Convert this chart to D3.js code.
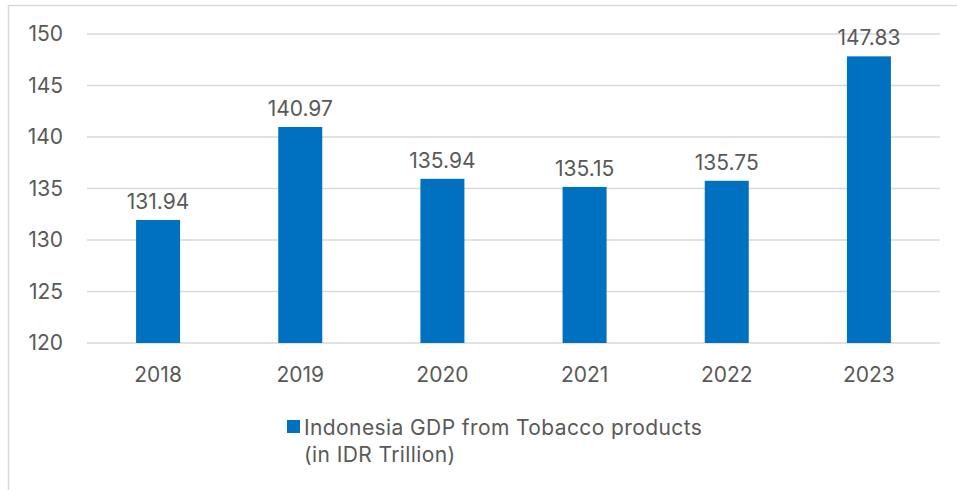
<!DOCTYPE html>
<html>
<head>
<meta charset="utf-8">
<script src="https://cdn.jsdelivr.net/npm/d3@7"></script>
<style>
  body { margin: 0; background: #fff; }
  text { font-family: Inter, "Liberation Sans", sans-serif; fill: #595959; }
</style>
</head>
<body>
<div class="chart"></div>
<script>
const years = ['2018', '2019', '2020', '2021', '2022', '2023'];
const gdpValues = [131.94, 140.97, 135.94, 135.15, 135.75, 147.83];
const yTicks = [120, 125, 130, 135, 140, 145, 150];
const legendLines = ['Indonesia GDP from Tobacco products', '(in IDR Trillion)'];

const width = 957;
const height = 490;
const plot = {left: 87, right: 940, top: 34, bottom: 343};
const barColor = '#0070c0';
const fontSize = '21px';

const svg = d3.select('.chart')
  .append('svg')
    .attr('width', width)
    .attr('height', height);

// outer chart frame, only top and left show in the crop
svg.append('rect')
  .attr('x', 8.5)
  .attr('y', 5.5)
  .attr('width', 1000)
  .attr('height', 600)
  .attr('fill', 'none')
  .attr('stroke', '#d9d9d9')
  .attr('stroke-width', 1.5);

const x = d3.scaleBand()
  .domain(years)
  .range([plot.left, plot.right])
  .padding(0);

const y = d3.scaleLinear()
  .domain([120, 150])
  .range([plot.bottom, plot.top]);

const barWidth = 44;

svg.selectAll('.grid')
  .data(yTicks)
  .enter()
  .append('line')
    .attr('class', 'grid')
    .attr('x1', plot.left)
    .attr('x2', plot.right)
    .attr('y1', d => y(d))
    .attr('y2', d => y(d))
    .attr('stroke', '#d9d9d9')
    .attr('stroke-width', 1.5);

svg.selectAll('.ytick')
  .data(yTicks)
  .enter()
  .append('text')
    .attr('class', 'ytick')
    .attr('x', 63)
    .attr('y', d => y(d))
    .attr('dy', '0.35em')
    .attr('text-anchor', 'end')
    .attr('font-size', fontSize)
    .text(d => d);

svg.selectAll('.bar')
  .data(gdpValues)
  .enter()
  .append('rect')
    .attr('class', 'bar')
    .attr('x', (d, i) => x(years[i]) + x.bandwidth() / 2 - barWidth / 2)
    .attr('y', d => y(d))
    .attr('width', barWidth)
    .attr('height', d => y(120) - y(d))
    .attr('fill', barColor);

svg.selectAll('.value')
  .data(gdpValues)
  .enter()
  .append('text')
    .attr('class', 'value')
    .attr('x', (d, i) => x(years[i]) + x.bandwidth() / 2)
    .attr('y', d => y(d) - 11)
    .attr('text-anchor', 'middle')
    .attr('font-size', fontSize)
    .text(d => d.toFixed(2));

svg.selectAll('.xtick')
  .data(years)
  .enter()
  .append('text')
    .attr('class', 'xtick')
    .attr('x', d => x(d) + x.bandwidth() / 2)
    .attr('y', 382)
    .attr('text-anchor', 'middle')
    .attr('font-size', fontSize)
    .text(d => d);

// legend
svg.append('rect')
  .attr('x', 287)
  .attr('y', 420)
  .attr('width', 13)
  .attr('height', 13)
  .attr('fill', barColor);

svg.selectAll('.legend')
  .data(legendLines)
  .enter()
  .append('text')
    .attr('class', 'legend')
    .attr('x', 304)
    .attr('y', (d, i) => 435 + i * 27)
    .attr('font-size', fontSize)
    .attr('letter-spacing', '0.4px')
    .text(d => d);
</script>
</body>
</html>
